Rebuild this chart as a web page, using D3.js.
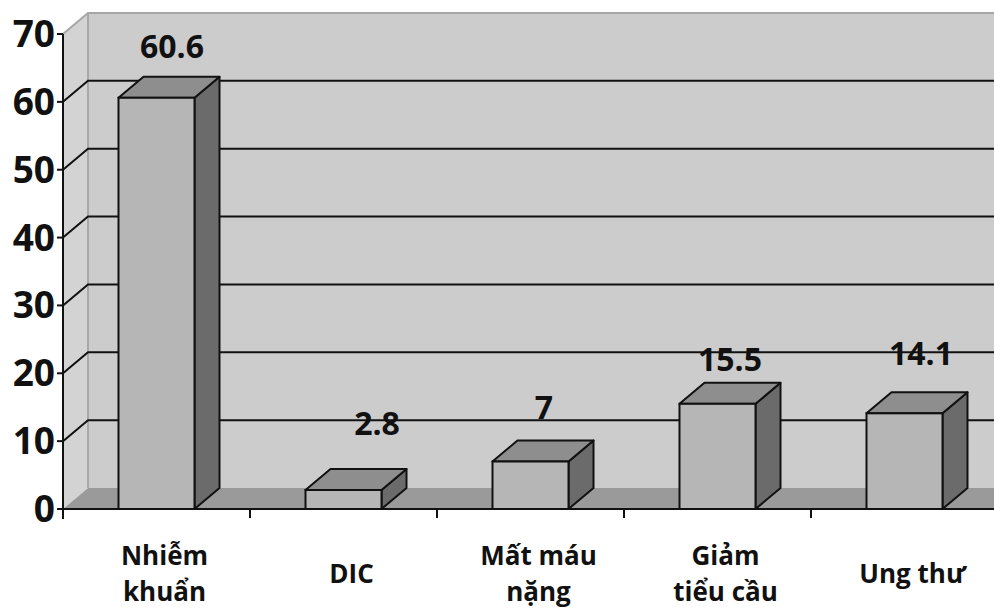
<!DOCTYPE html>
<html>
<head>
<meta charset="utf-8">
<script src="https://cdn.jsdelivr.net/npm/d3@7/dist/d3.min.js"></script>
<style>
  html, body { margin: 0; padding: 0; background: #ffffff; }
  svg { display: block; }
  text { font-family: "Open Sans", "DejaVu Sans", sans-serif; font-weight: 700; fill: #111; }
</style>
</head>
<body>
<svg id="chart" width="994" height="610"></svg>
<script>
// Causes (two-line labels split on "\n") and their percentages
const categories = ["Nhiễm\nkhuẩn", "DIC", "Mất máu\nnặng", "Giảm\ntiểu cầu", "Ung thư"];
const values = [60.6, 2.8, 7, 15.5, 14.1];
const yTicks = [0, 10, 20, 30, 40, 50, 60, 70];

// Small hand nudges for the value labels [dx, dy]
const labelOffsets = [[3, 1], [21, -14], [1, -2], [0, 8], [4, -7]];

const W = 994, H = 610;
const svg = d3.select("#chart");

// 3D depth offset of the back plane
const DX = 25, DY = -21;

const x0 = 63;
const x = d3.scaleBand().domain(categories).range([x0, x0 + 5 * 187]).paddingInner(0).paddingOuter(0);
const y = d3.scaleLinear().domain([0, 70]).range([509, 34]);
const barW = 76;

const yBase = y(0), yTop = y(70);

// Left side wall
svg.append("path")
  .attr("d", `M${x0},${yBase} L${x0},${yTop} L${x0 + DX},${yTop + DY} L${x0 + DX},${yBase + DY} Z`)
  .attr("fill", "#d3d3d3");

// Back wall
svg.append("rect")
  .attr("x", x0 + DX).attr("y", yTop + DY)
  .attr("width", W - (x0 + DX) + 10).attr("height", yBase - yTop)
  .attr("fill", "#cccccc");

// Floor
svg.append("path")
  .attr("d", `M${x0},${yBase} L${x0 + DX},${yBase + DY} L${W + 10},${yBase + DY} L${W + 10},${yBase} Z`)
  .attr("fill", "#9a9a9a");

// Wall edges
svg.append("path")
  .attr("d", `M${x0},${yTop} L${x0 + DX},${yTop + DY} L${W + 10},${yTop + DY}`)
  .attr("fill", "none").attr("stroke", "#a6a6a6").attr("stroke-width", 2);
svg.append("line")
  .attr("x1", x0 + DX).attr("x2", x0 + DX)
  .attr("y1", yTop + DY).attr("y2", yBase + DY)
  .attr("stroke", "#a8a8a8").attr("stroke-width", 2);

// Gridlines: diagonal on side wall + horizontal on back wall
const grid = svg.append("g");
yTicks.filter(t => t > 0 && t < 70).forEach(t => {
  const yy = y(t);
  grid.append("path")
    .attr("d", `M${x0},${yy} L${x0 + DX},${yy + DY} L${W + 10},${yy + DY}`)
    .attr("fill", "none").attr("stroke", "#111").attr("stroke-width", 2);
});

// Bars (front, top, side faces)
const bars = svg.append("g").selectAll("g").data(values).join("g");
const bx = (d, i) => x.bandwidth() / 2 + x(categories[i]) - barW / 2;

bars.append("path") // side face
  .attr("d", (d, i) => {
    const r = bx(d, i) + barW, t = y(d);
    return `M${r},${t} L${r + DX},${t + DY} L${r + DX},${yBase + DY} L${r},${yBase} Z`;
  })
  .attr("fill", "#6b6b6b").attr("stroke", "#111").attr("stroke-width", 2).attr("stroke-linejoin", "round");

bars.append("path") // top face
  .attr("d", (d, i) => {
    const l = bx(d, i), t = y(d);
    return `M${l},${t} L${l + DX},${t + DY} L${l + barW + DX},${t + DY} L${l + barW},${t} Z`;
  })
  .attr("fill", "#8e8e8e").attr("stroke", "#111").attr("stroke-width", 2).attr("stroke-linejoin", "round");

bars.append("rect") // front face
  .attr("x", (d, i) => bx(d, i))
  .attr("y", d => y(d))
  .attr("width", barW)
  .attr("height", d => yBase - y(d))
  .attr("fill", "#b6b6b6").attr("stroke", "#111").attr("stroke-width", 2);

// Value labels
bars.append("text")
  .attr("x", (d, i) => x(categories[i]) + x.bandwidth() / 2 + DX / 2 + labelOffsets[i][0])
  .attr("y", (d, i) => y(d) + DY - 20 + labelOffsets[i][1])
  .attr("text-anchor", "middle")
  .attr("font-size", 32)
  .text(d => d);

// Y axis
const axisG = svg.append("g");
axisG.append("line")
  .attr("x1", x0).attr("x2", x0).attr("y1", yTop).attr("y2", yBase + 10)
  .attr("stroke", "#111").attr("stroke-width", 2);
yTicks.forEach(t => {
  axisG.append("line")
    .attr("x1", x0 - 6).attr("x2", x0).attr("y1", y(t)).attr("y2", y(t))
    .attr("stroke", "#111").attr("stroke-width", 2);
  axisG.append("text")
    .attr("x", x0 - 8).attr("y", y(t) + 13)
    .attr("text-anchor", "end")
    .attr("font-size", 37)
    .text(t);
});

// X axis
axisG.append("line")
  .attr("x1", x0).attr("x2", W + 10).attr("y1", yBase).attr("y2", yBase)
  .attr("stroke", "#111").attr("stroke-width", 2);
categories.forEach((c, i) => {
  if (i > 0) {
    axisG.append("line")
      .attr("x1", x(c)).attr("x2", x(c)).attr("y1", yBase).attr("y2", yBase + 9)
      .attr("stroke", "#111").attr("stroke-width", 2);
  }
});

// Category labels, one text element per line
const catG = svg.append("g");
categories.forEach((c, i) => {
  const lines = c.split("\n");
  const cx = x(c) + x.bandwidth() / 2 + 8;
  const firstBase = lines.length === 1 ? 583 : 565;
  lines.forEach((ln, k) => {
    catG.append("text")
      .attr("x", cx).attr("y", firstBase + k * 36)
      .attr("text-anchor", "middle")
      .attr("font-size", 26)
      .text(ln);
  });
});
</script>
</body>
</html>
